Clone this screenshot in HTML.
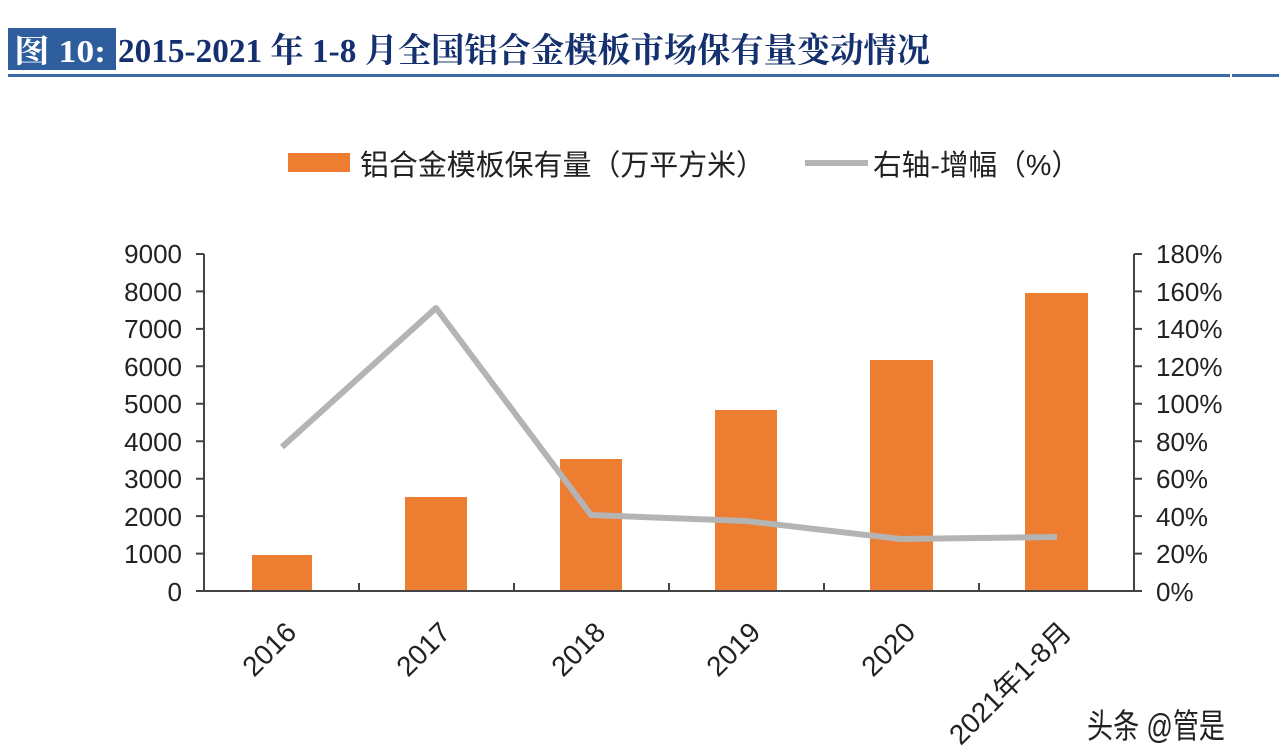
<!DOCTYPE html>
<html><head><meta charset="utf-8"><style>
html,body{margin:0;padding:0;background:#fff;width:1279px;height:756px;overflow:hidden}
svg{display:block}
</style></head><body>
<svg width="1279" height="756" xmlns="http://www.w3.org/2000/svg" font-family="Liberation Sans, Noto Sans CJK SC, sans-serif">
<rect x="8" y="28" width="108" height="42" fill="#2e5e9e"/>
<text x="14" y="62" font-family="Liberation Serif, Noto Serif CJK SC, serif" font-weight="bold" font-size="32" fill="#fff" textLength="92" lengthAdjust="spacingAndGlyphs">图 10:</text>
<text x="118" y="62" font-family="Liberation Serif, Noto Serif CJK SC, serif" font-weight="bold" font-size="34" fill="#14306e" textLength="812" lengthAdjust="spacingAndGlyphs">2015-2021 年 1-8 月全国铝合金模板市场保有量变动情况</text>
<rect x="8" y="74" width="1222" height="3" fill="#3c69a8"/>
<rect x="1232" y="74" width="47" height="3" fill="#3c69a8"/>
<rect x="288" y="153" width="62" height="19" fill="#ed7d31"/>
<text x="360" y="175" font-size="29" fill="#222" textLength="405" lengthAdjust="spacingAndGlyphs">铝合金模板保有量（万平方米）</text>
<line x1="805" y1="163" x2="868" y2="163" stroke="#b4b4b4" stroke-width="6"/>
<text x="873" y="175" font-size="29" fill="#222" textLength="207" lengthAdjust="spacingAndGlyphs">右轴-增幅（%）</text>
<g fill="#ed7d31">
<rect x="252" y="555" width="60" height="36"/>
<rect x="405" y="497" width="62" height="94"/>
<rect x="560" y="459" width="62" height="132"/>
<rect x="715" y="410" width="62" height="181"/>
<rect x="870" y="360" width="63" height="231"/>
<rect x="1025" y="293" width="63" height="298"/>
</g>
<g stroke="#444" stroke-width="2" fill="none">
<line x1="204" y1="254" x2="204" y2="591"/>
<line x1="204" y1="591" x2="1134" y2="591"/>
<line x1="1134" y1="254" x2="1134" y2="591"/>
<path d="M196 254H204M196 291.4H204M196 328.9H204M196 366.3H204M196 403.8H204M196 441.2H204M196 478.7H204M196 516.1H204M196 553.6H204M196 591H204"/>
<path d="M1134 254H1142M1134 291.4H1142M1134 328.9H1142M1134 366.3H1142M1134 403.8H1142M1134 441.2H1142M1134 478.7H1142M1134 516.1H1142M1134 553.6H1142M1134 591H1142"/>
<path d="M359 591V583M514 591V583M669 591V583M824 591V583M979 591V583"/>
</g>
<polyline points="282,447 436,308 591,515 746,521 901,539 1057,537" fill="none" stroke="#b4b4b4" stroke-width="6" stroke-linejoin="round"/>
<g font-size="26" fill="#222" text-anchor="end">
<text x="182" y="263">9000</text><text x="182" y="301">8000</text><text x="182" y="338">7000</text><text x="182" y="376">6000</text><text x="182" y="413">5000</text><text x="182" y="451">4000</text><text x="182" y="488">3000</text><text x="182" y="526">2000</text><text x="182" y="563">1000</text><text x="182" y="601">0</text>
</g>
<g font-size="26" fill="#222">
<text x="1156" y="263">180%</text><text x="1156" y="301">160%</text><text x="1156" y="338">140%</text><text x="1156" y="376">120%</text><text x="1156" y="413">100%</text><text x="1156" y="451">80%</text><text x="1156" y="488">60%</text><text x="1156" y="526">40%</text><text x="1156" y="563">20%</text><text x="1156" y="601">0%</text>
</g>
<g font-size="28" fill="#222" text-anchor="end">
<text transform="translate(298,634) rotate(-45)">2016</text>
<text transform="translate(452,634) rotate(-45)">2017</text>
<text transform="translate(607,634) rotate(-45)">2018</text>
<text transform="translate(762,634) rotate(-45)">2019</text>
<text transform="translate(917,634) rotate(-45)">2020</text>
<text transform="translate(1073,634) rotate(-45)">2021年1-8月</text>
</g>
<text x="1087" y="738" font-size="34" fill="#222" textLength="138" lengthAdjust="spacingAndGlyphs">头条 @管是</text>
</svg>
</body></html>
